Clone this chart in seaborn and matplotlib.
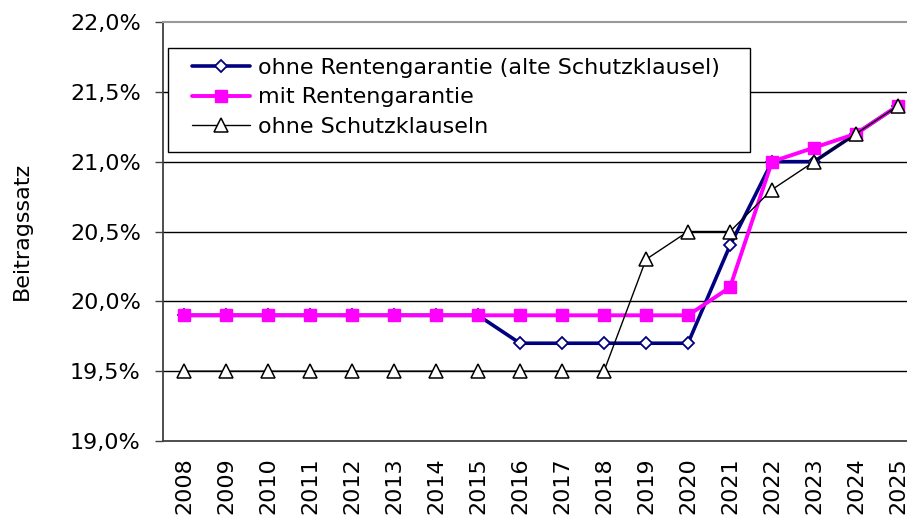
import numpy as np
import pandas as pd
import matplotlib
matplotlib.use("Agg")
import matplotlib.pyplot as plt
from matplotlib.patches import Rectangle
from matplotlib.ticker import FuncFormatter, FixedLocator
import seaborn as sns

years = [2008, 2009, 2010, 2011, 2012, 2013, 2014, 2015, 2016,
         2017, 2018, 2019, 2020, 2021, 2022, 2023, 2024, 2025]

ohne_rentengarantie = [19.9, 19.9, 19.9, 19.9, 19.9, 19.9, 19.9, 19.9, 19.7,
                       19.7, 19.7, 19.7, 19.7, 20.4, 21.0, 21.0, 21.2, 21.4]
mit_rentengarantie = [19.9, 19.9, 19.9, 19.9, 19.9, 19.9, 19.9, 19.9, 19.9,
                      19.9, 19.9, 19.9, 19.9, 20.1, 21.0, 21.1, 21.2, 21.4]
ohne_schutzklauseln = [19.5, 19.5, 19.5, 19.5, 19.5, 19.5, 19.5, 19.5, 19.5,
                       19.5, 19.5, 20.3, 20.5, 20.5, 20.8, 21.0, 21.2, 21.4]

series_names = ["ohne Rentengarantie (alte Schutzklausel)",
                "mit Rentengarantie",
                "ohne Schutzklauseln"]
y_ticks = [19.0, 19.5, 20.0, 20.5, 21.0, 21.5, 22.0]

df = pd.DataFrame({
    "Jahr": years * 3,
    "Beitragssatz": ohne_rentengarantie + mit_rentengarantie + ohne_schutzklauseln,
    "Variante": [series_names[0]] * len(years) + [series_names[1]] * len(years)
                + [series_names[2]] * len(years),
})

sns.set_style("white")
plt.rcParams["font.family"] = ["DejaVu Sans"]
plt.rcParams["text.color"] = "black"
plt.rcParams["axes.labelcolor"] = "black"
FS = 16
W, H = 907, 518

fig = plt.figure(figsize=(W / 100, H / 100), dpi=100)
# axes run slightly past the right edge, like the cropped original
ax = fig.add_axes([163 / W, 1 - 441 / H, 756 / W, 419 / H])

styles = {
    series_names[0]: dict(color="#000080", lw=2.6, marker="D", ms=6,
                          mfc="white", mec="#000080", mew=1.3),
    series_names[1]: dict(color="#FF00FF", lw=2.8, marker="s", ms=8,
                          mfc="#FF00FF", mec="#FF00FF", mew=1.0),
    series_names[2]: dict(color="black", lw=1.0, marker="^", ms=9.5,
                          mfc="white", mec="black", mew=1.1),
}

for name in series_names:
    st = styles[name]
    sns.lineplot(data=df[df["Variante"] == name], x="Jahr", y="Beitragssatz",
                 ax=ax, label=name, color=st["color"], linewidth=st["lw"],
                 marker=st["marker"], markersize=st["ms"],
                 markerfacecolor=st["mfc"], markeredgecolor=st["mec"],
                 markeredgewidth=st["mew"], zorder=3)

ax.set_xlim(2007.5, 2025.5)
ax.set_ylim(19.0, 22.0)
ax.set_yticks(y_ticks)
ax.yaxis.set_major_formatter(FuncFormatter(lambda v, p: f"{v:.1f}%".replace(".", ",")))
ax.set_xticks(years)
ax.set_xticklabels([str(y) for y in years], rotation=90)
ax.xaxis.set_minor_locator(FixedLocator([y - 0.5 for y in years] + [2025.5]))
ax.tick_params(axis="x", which="major", length=0, pad=12, labelsize=FS,
               labelcolor="black")
ax.tick_params(axis="x", which="minor", length=6, width=1, color="#404040")
ax.tick_params(axis="y", length=6, width=1, color="#404040", labelsize=FS, pad=10,
               left=True, labelcolor="black")

ax.grid(False)
for v in y_ticks[1:-1]:
    ax.axhline(v, color="black", lw=1.0, zorder=1)

ax.spines["right"].set_visible(False)
ax.spines["top"].set_color("#999999")
ax.spines["top"].set_linewidth(1.5)
for s in ["left", "bottom"]:
    ax.spines[s].set_color("#404040")
    ax.spines[s].set_linewidth(1.3)

ax.set_xlabel("")
ax.set_ylabel("Beitragssatz", fontsize=FS)
ax.yaxis.set_label_coords(22 / W, 1 - 231 / H, transform=fig.transFigure)
ax.yaxis.label.set_verticalalignment("center")

# legend box drawn separately so its padding matches the original
ax.add_patch(Rectangle((168 / W, 1 - 152 / H), 582 / W, 104 / H,
                       transform=fig.transFigure, facecolor="white",
                       edgecolor="black", linewidth=1.0, zorder=4,
                       clip_on=False))
leg = ax.legend(loc="upper left", bbox_to_anchor=(192 / W, 1 - 58 / H),
                bbox_transform=fig.transFigure, fontsize=FS, frameon=False,
                handlelength=2.6, borderpad=0, labelspacing=0.42,
                handletextpad=0.35, borderaxespad=0)
leg.set_zorder(5)

fig.savefig("out.png", dpi=100, facecolor="white")
